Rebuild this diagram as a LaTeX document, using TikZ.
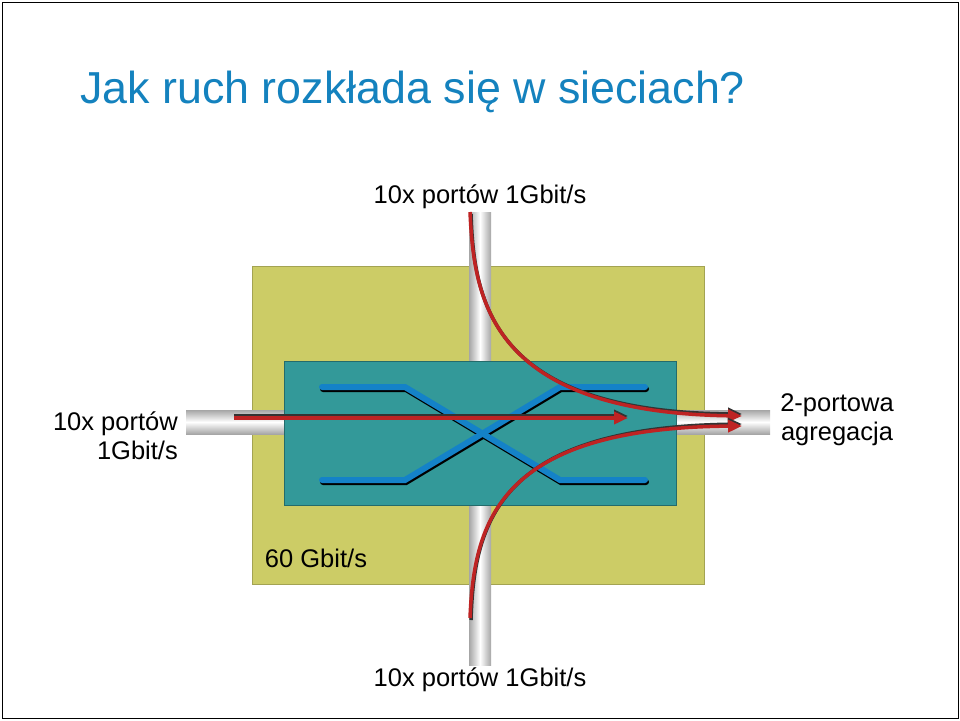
\documentclass[tikz,border=0pt]{standalone}
\usepackage{fontspec}
\setmainfont{Liberation Sans}
\usetikzlibrary{arrows.meta}
\definecolor{ttl}{RGB}{20,130,190}
\definecolor{olive}{RGB}{204,204,102}
\definecolor{teal2}{RGB}{51,153,153}
\definecolor{bl}{RGB}{20,130,200}
\definecolor{rd}{RGB}{190,35,35}
\tikzset{
 lbl/.style={font=\fontsize{25.5}{29}\selectfont, inner sep=0pt},
 bline/.style={line width=6pt, bl, line cap=round},
 bshadow/.style={line width=6pt, black, line cap=round},
 rarrow/.style={line width=3.5pt, rd, -{Triangle[length=14pt,width=12pt]}},
 rshadow/.style={line width=3.5pt, black!80, -{Triangle[length=14pt,width=12pt]}},
}
\begin{document}
\begin{tikzpicture}[x=1pt,y=-1pt]
\useasboundingbox (0,0) rectangle (960,720);
\draw[black, line width=1pt] (2,2) rectangle (958,718);
\node[anchor=west, text=ttl, font=\fontsize{44.8}{52}\selectfont, inner sep=0pt] (title) at (80,92) {Jak ruch rozkłada się w sieciach?};
% boxes
\node[draw=olive!80!black, fill=olive, minimum width=452, minimum height=318, inner sep=0pt, anchor=north west] (sw) at (252,266) {};
% pipes
\shade[left color=gray!70, right color=gray!70, middle color=white, shading angle=90] (469,212) rectangle (491,665);
\shade[top color=gray!70, bottom color=gray!70, middle color=white] (186,410) rectangle (284,434);
\shade[top color=gray!70, bottom color=gray!70, middle color=white] (676,410) rectangle (770,434);
\node[draw=teal2!70!black, fill=teal2, minimum width=392, minimum height=144, inner sep=0pt, anchor=north west] (core) at (284,361) {};
% blue cross
\coordinate (a1) at (322,387); \coordinate (a2) at (405,387); \coordinate (a3) at (560,480); \coordinate (a4) at (645,480);
\coordinate (b1) at (322,480); \coordinate (b2) at (405,480); \coordinate (b3) at (560,387); \coordinate (b4) at (645,387);
\draw[bshadow] ([shift={(1,2)}]a1) -- ([shift={(1,2)}]a2) -- ([shift={(1,2)}]a3) -- ([shift={(1,2)}]a4);
\draw[bshadow] ([shift={(1,2)}]b1) -- ([shift={(1,2)}]b2) -- ([shift={(1,2)}]b3) -- ([shift={(1,2)}]b4);
\draw[bline] (a1) -- (a2) -- (a3) -- (a4);
\draw[bline] (b1) -- (b2) -- (b3) -- (b4);
% red arrows
\coordinate (h0) at (234,418); \coordinate (h1) at (628,418);
\coordinate (t0) at (470,212); \coordinate (t1) at (742,416);
\coordinate (u0) at (470,618); \coordinate (u1) at (742,426);
\draw[rshadow] ([yshift=2]h0) -- ([yshift=2]h1);
\draw[rarrow] (h0) -- (h1);
\draw[rshadow] ([shift={(1,2)}]t0) .. controls (474,300) and (490,412) .. ([yshift=2]t1);
\draw[rarrow] (t0) .. controls (474,300) and (490,412) .. (t1);
\draw[rshadow] ([shift={(1,2)}]u0) .. controls (474,520) and (500,428) .. ([yshift=2]u1);
\draw[rarrow] (u0) .. controls (474,520) and (500,428) .. (u1);
% labels
\node[lbl] (ltop) at (480,197) {10x portów 1Gbit/s};
\node[lbl] (lbot) at (480,680) {10x portów 1Gbit/s};
\node[lbl, align=right, anchor=east] (lleft) at (178,436) {10x portów\\[0pt]1Gbit/s};
\node[lbl, align=center] (lright) at (837,420) {2-portowa\\[0pt]agregacja};
\node[lbl] (lsp) at (316,558) {60 Gbit/s};
\end{tikzpicture}
\end{document}
